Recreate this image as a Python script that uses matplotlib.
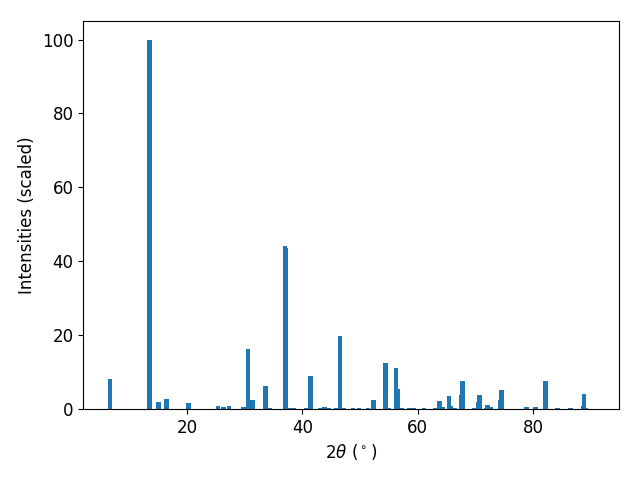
import matplotlib
matplotlib.use("Agg")
import matplotlib.pyplot as plt

two_theta = [6.60, 13.43, 15.07, 16.46, 20.26, 25.36, 26.31, 27.26, 29.77, 30.55,
             31.33, 33.57, 34.35, 36.95, 37.15, 37.81, 38.50, 40.66, 41.36, 43.08,
             43.78, 44.47, 45.85, 46.54, 47.23, 48.79, 49.83, 51.39, 52.34, 54.41,
             55.02, 56.23, 56.44, 57.27, 58.56, 59.25, 61.07, 63.06, 63.75, 64.35,
             65.39, 65.62, 66.34, 67.55, 67.75, 69.75, 70.54, 70.66, 71.93, 72.14,
             72.66, 74.35, 74.47, 78.88, 80.44, 82.17, 84.24, 86.49, 88.70, 88.82,
             89.12, 90.25]
intensity = [8.1, 100.0, 1.9, 2.7, 1.6, 0.8, 0.6, 0.8, 0.5, 16.3,
             2.4, 6.2, 0.3, 44.2, 43.6, 0.3, 0.3, 0.3, 8.9, 0.3,
             0.6, 0.3, 0.3, 19.8, 0.3, 0.3, 0.3, 0.3, 2.4, 12.5,
             0.3, 11.1, 5.4, 0.3, 0.3, 0.3, 0.3, 0.3, 2.2, 0.5,
             3.5, 0.8, 0.3, 3.8, 7.6, 0.3, 1.9, 3.8, 0.3, 1.1,
             0.5, 2.4, 5.2, 0.6, 0.6, 7.6, 0.3, 0.3, 0.8, 4.0,
             0.3, 0.02]

plt.rcParams["font.size"] = 12

fig, ax = plt.subplots(figsize=(6.4, 4.8), dpi=100)
ax.bar(two_theta, intensity, width=0.8, color="tab:blue")
ax.set_xlabel(r"$2\theta$ ($^\circ$)")
ax.set_ylabel("Intensities (scaled)")
fig.subplots_adjust(left=0.13, right=0.967, top=0.956, bottom=0.148)
plt.savefig("out.png")
